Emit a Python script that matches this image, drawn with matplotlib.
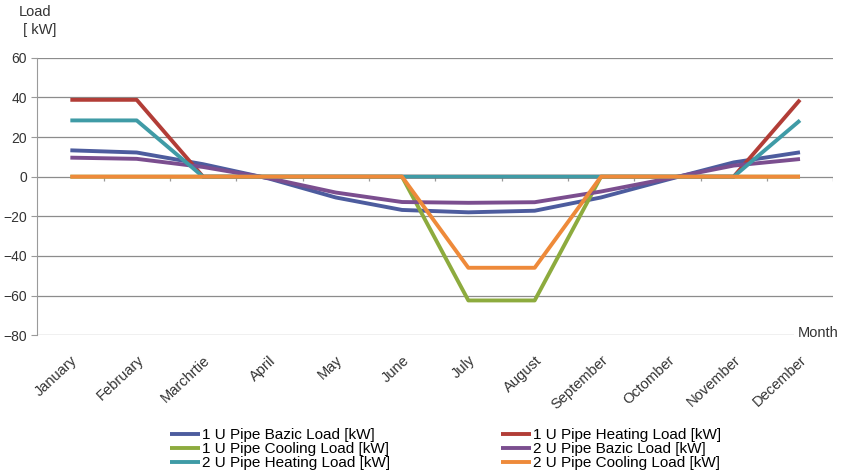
import numpy as np
import matplotlib.pyplot as plt

plt.rcParams["font.family"] = ["Liberation Sans", "DejaVu Sans"]

months = ["January", "February", "Marchrtie", "April", "May", "June", "July",
          "August", "September", "Octomber", "November", "December"]

# monthly loads [kW]
u1_basic = [13.3, 12.2, 6.3, -1.0, -10.5, -16.8, -18.0, -17.2, -10.5, -1.5, 7.2, 12.3]
u1_heating = [38.8, 38.8, 0, 0, 0, 0, 0, 0, 0, 0, 0, 38.8]
u1_cooling = [0, 0, 0, 0, 0, 0, -62.5, -62.5, 0, 0, 0, 0]
u2_basic = [9.6, 9.0, 4.9, -0.8, -8.0, -12.8, -13.2, -12.9, -7.5, -1.0, 5.6, 8.9]
u2_heating = [28.4, 28.4, 0, 0, 0, 0, 0, 0, 0, 0, 0, 28.4]
u2_cooling = [0, 0, 0, 0, 0, 0, -46.0, -46.0, 0, 0, 0, 0]

series = [
    ("1 U Pipe Bazic Load [kW]", u1_basic, "#4d5c9e"),
    ("1 U Pipe Heating Load [kW]", u1_heating, "#b23d37"),
    ("1 U Pipe Cooling Load [kW]", u1_cooling, "#8dab3e"),
    ("2 U Pipe Bazic Load [kW]", u2_basic, "#7b4e8f"),
    ("2 U Pipe Heating Load [kW]", u2_heating, "#3f9ba6"),
    ("2 U Pipe Cooling Load [kW]", u2_cooling, "#ee8a3a"),
]

fig = plt.figure(figsize=(8.45, 4.74), dpi=100)
ax = fig.add_axes([0.044, 0.293, 0.942, 0.585])

x = np.arange(len(months))
for label, vals, col in series:
    ax.plot(x, vals, color=col, linewidth=2.8, label=label, solid_capstyle="butt")

ax.set_xlim(-0.5, len(months) - 0.5)
ax.set_ylim(-80, 60)
ax.set_yticks(np.arange(-80, 61, 20))
ax.yaxis.grid(True, color="#8c8c8c", linewidth=0.9)
ax.set_axisbelow(True)
for s in ["top", "right", "bottom"]:
    ax.spines[s].set_visible(False)
ax.spines["left"].set_color("#9a9a9a")
ax.tick_params(axis="y", length=4, color="#9a9a9a", labelsize=10, labelcolor="#333333")

# category axis sits on the zero line, labels at the bottom
ax.set_xticks(x)
ax.set_xticklabels(months, rotation=43, ha="right", rotation_mode="anchor",
                   fontsize=10.5, color="#333333")
ax.tick_params(axis="x", length=0, pad=13)
ax.vlines(np.arange(len(months)) + 0.5, -2.2, 0, color="#9a9a9a", linewidth=0.9, zorder=1)

ax.text(1.007, -79, "Month", transform=ax.get_yaxis_transform(), ha="right", va="center",
        fontsize=10.5, color="#333333",
        bbox=dict(facecolor="white", edgecolor="none", pad=3))
fig.text(0.022, 0.955, "Load\n [ kW]", fontsize=10.5, color="#333333", ha="left",
         va="center", linespacing=1.35)

handles, labels = ax.get_legend_handles_labels()
order = [0, 2, 4, 1, 3, 5]
fig.legend([handles[i] for i in order], [labels[i] for i in order],
           loc="lower left", bbox_to_anchor=(0.188, -0.014), ncol=2, frameon=False,
           fontsize=11, handlelength=2.0, handletextpad=0.15, columnspacing=7.2,
           labelspacing=0.0, borderaxespad=0.3)

fig.savefig("out.png", dpi=100)
